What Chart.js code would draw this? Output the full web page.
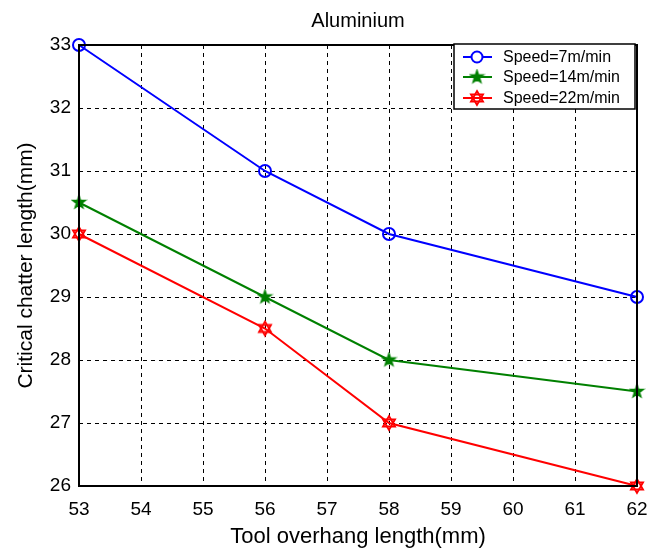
<!DOCTYPE html>
<html>
<head>
<meta charset="utf-8">
<script src="https://cdn.jsdelivr.net/npm/chart.js@4.4.0/dist/chart.umd.min.js"></script>
<style>
html, body { margin: 0; padding: 0; background: #fff; }
</style>
</head>
<body>
<canvas id="myChart" width="661" height="553"></canvas>
<script>
// values
const overhang = [53, 56, 58, 62];
const speed7 = [33, 31, 30, 29];
const speed14 = [30.5, 29, 28, 27.5];
const speed22 = [30, 28.5, 27, 26];
const seriesLabels = ['Speed=7m/min', 'Speed=14m/min', 'Speed=22m/min'];
const seriesColors = ['#0000ff', '#008000', '#ff0000'];
const chartTitle = 'Aluminium';

const FONT = '"Liberation Sans", Arial, sans-serif';

// marker images (matlab-ish pentagram / hexagram)
function pentagram(color, r) {
    const c = document.createElement('canvas');
    const s = Math.ceil(r * 2 + 4);
    c.width = s; c.height = s;
    const g = c.getContext('2d');
    const cx = s / 2, cy = s / 2;
    g.beginPath();
    for (let i = 0; i < 10; i++) {
        const rad = i % 2 === 0 ? r : r * 0.4;
        const a = -Math.PI / 2 + i * Math.PI / 5;
        const px = cx + rad * Math.cos(a), py = cy + rad * Math.sin(a);
        if (i === 0) g.moveTo(px, py); else g.lineTo(px, py);
    }
    g.closePath();
    g.fillStyle = color;
    g.fill();
    g.strokeStyle = color;
    g.lineWidth = 1.5;
    g.stroke();
    return c;
}

function hexagram(color, r) {
    const c = document.createElement('canvas');
    const s = Math.ceil(r * 2 + 4);
    c.width = s; c.height = s;
    const g = c.getContext('2d');
    const cx = s / 2, cy = s / 2;
    g.strokeStyle = color;
    g.lineWidth = 1.8;
    [-Math.PI / 2, Math.PI / 2].forEach(function(start) {
        g.beginPath();
        for (let i = 0; i < 3; i++) {
            const a = start + i * 2 * Math.PI / 3;
            const px = cx + r * Math.cos(a), py = cy + r * Math.sin(a);
            if (i === 0) g.moveTo(px, py); else g.lineTo(px, py);
        }
        g.closePath();
        g.stroke();
    });
    return c;
}

const starImg = pentagram(seriesColors[1], 6.5);
const hexImg = hexagram(seriesColors[2], 7);

function toPoints(ys) {
    return overhang.map((x, i) => ({ x: x, y: ys[i] }));
}

// title over the plot, full box around the plot + matlab style legend
const boxAndLegend = {
    id: 'boxAndLegend',
    afterDraw(chart) {
        const ctx = chart.ctx;
        const a = chart.chartArea;
        ctx.save();
        ctx.fillStyle = '#000';
        ctx.font = '20px ' + FONT;
        ctx.textAlign = 'center';
        ctx.textBaseline = 'middle';
        ctx.fillText(chartTitle, (a.left + a.right) / 2, 21);

        ctx.strokeStyle = '#000';
        ctx.lineWidth = 2;
        ctx.strokeRect(a.left, a.top, a.right - a.left, a.bottom - a.top);

        const lx = 454, ly = 44, lw = 181, lh = 65;
        ctx.fillStyle = '#fff';
        ctx.fillRect(lx, ly, lw, lh);
        ctx.lineWidth = 1.5;
        ctx.strokeRect(lx, ly, lw, lh);

        const rows = [57, 77, 98];
        ctx.font = '16px ' + FONT;
        ctx.textAlign = 'left';
        rows.forEach(function(y, i) {
            ctx.strokeStyle = seriesColors[i];
            ctx.lineWidth = 2;
            ctx.beginPath();
            ctx.moveTo(463, y);
            ctx.lineTo(492, y);
            ctx.stroke();
            if (i === 0) {
                ctx.beginPath();
                ctx.arc(477, y, 5.5, 0, Math.PI * 2);
                ctx.fillStyle = '#fff';
                ctx.fill();
                ctx.stroke();
            } else {
                const img = i === 1 ? starImg : hexImg;
                ctx.drawImage(img, 477 - img.width / 2, y - img.height / 2);
            }
            ctx.fillStyle = '#000';
            ctx.fillText(seriesLabels[i], 503, y + 1);
        });
        ctx.restore();
    }
};

const ctx = document.getElementById('myChart').getContext('2d');
const chart = new Chart(ctx, {
    type: 'line',
    data: {
        datasets: [{
            label: seriesLabels[0],
            data: toPoints(speed7),
            borderColor: seriesColors[0],
            borderWidth: 2,
            pointStyle: 'circle',
            pointRadius: 6,
            pointBorderWidth: 2,
            pointBackgroundColor: 'rgba(0,0,0,0)',
            pointBorderColor: seriesColors[0],
            tension: 0,
            fill: false,
            clip: false
        }, {
            label: seriesLabels[1],
            data: toPoints(speed14),
            borderColor: seriesColors[1],
            borderWidth: 2,
            pointStyle: starImg,
            tension: 0,
            fill: false,
            clip: false
        }, {
            label: seriesLabels[2],
            data: toPoints(speed22),
            borderColor: seriesColors[2],
            borderWidth: 2,
            pointStyle: hexImg,
            tension: 0,
            fill: false,
            clip: false
        }]
    },
    options: {
        responsive: false,
        animation: false,
        layout: { padding: { top: 45, right: 24, bottom: 0, left: 0 } },
        plugins: {
            legend: { display: false },
            tooltip: { enabled: false },
            title: { display: false }
        },
        scales: {
            x: {
                type: 'linear',
                min: 53,
                max: 62,
                afterFit(scale) { scale.height = 67; },
                ticks: {
                    stepSize: 1,
                    color: '#000',
                    padding: 12,
                    font: { family: FONT, size: 19 }
                },
                grid: {
                    color: '#000',
                    drawTicks: false
                },
                border: { display: false, dash: [4, 4] },
                title: {
                    display: true,
                    text: 'Tool overhang length(mm)',
                    color: '#000',
                    font: { family: FONT, size: 22 },
                    padding: { top: 0, bottom: 3 }
                }
            },
            y: {
                min: 26,
                max: 33,
                afterFit(scale) { scale.width = 79; },
                ticks: {
                    stepSize: 1,
                    color: '#000',
                    padding: 8,
                    font: { family: FONT, size: 19 }
                },
                grid: {
                    color: '#000',
                    drawTicks: false
                },
                border: { display: false, dash: [4, 4] },
                title: {
                    display: true,
                    text: 'Critical chatter length(mm)',
                    color: '#000',
                    font: { family: FONT, size: 21 },
                    padding: { top: 14, bottom: 0 }
                }
            }
        }
    },
    plugins: [boxAndLegend]
});
</script>
</body>
</html>
